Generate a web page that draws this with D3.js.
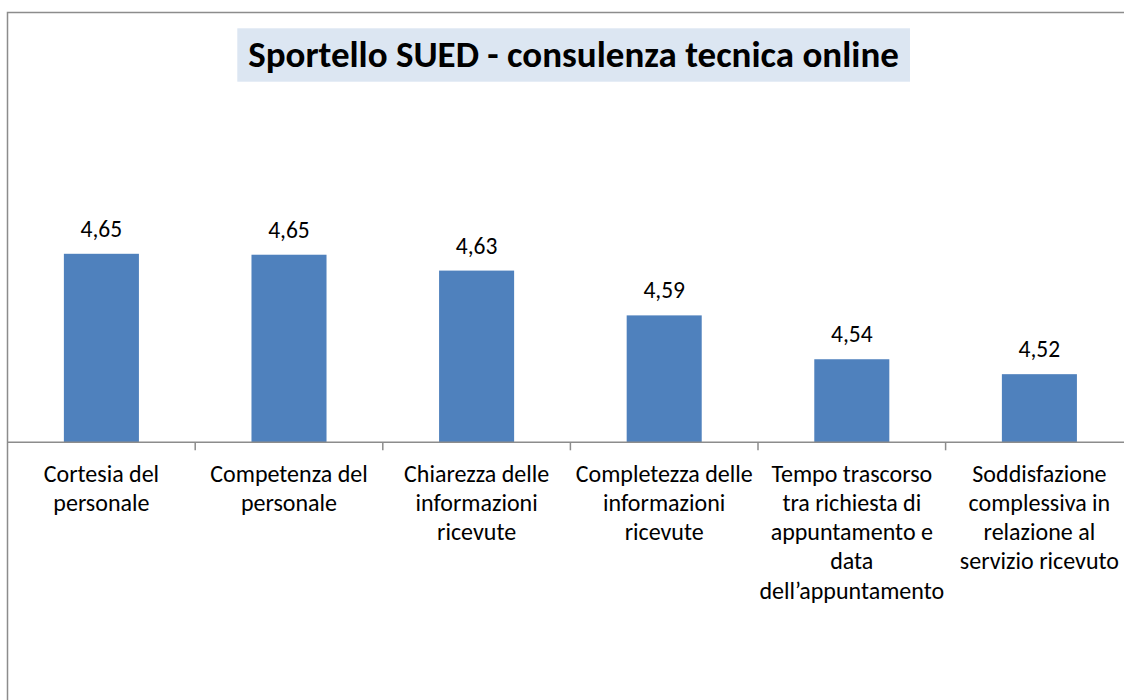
<!DOCTYPE html>
<html>
<head>
<meta charset="utf-8">
<script src="https://cdn.jsdelivr.net/npm/d3@7"></script>
<style>
    body { margin: 0; background: #fff; }
    #chart { width: 1124px; height: 700px; overflow: hidden; }
    text { font-family: Carlito, Calibri, Lato, sans-serif; fill: #000; }
</style>
</head>
<body>
<div id="chart"></div>
<script>

// data
const categories = [
    "Cortesia del personale",
    "Competenza del personale",
    "Chiarezza delle informazioni ricevute",
    "Completezza delle informazioni ricevute",
    "Tempo trascorso tra richiesta di appuntamento e data dell\u2019appuntamento",
    "Soddisfazione complessiva in relazione al servizio ricevuto"
];
const values = [4.652, 4.651, 4.634, 4.586, 4.539, 4.523];

// tick labels, wrapped as in the original
const labelLines = [
    ["Cortesia del", "personale"],
    ["Competenza del", "personale"],
    ["Chiarezza delle", "informazioni", "ricevute"],
    ["Completezza delle", "informazioni", "ricevute"],
    ["Tempo trascorso", "tra richiesta di", "appuntamento e", "data", "dell\u2019appuntamento"],
    ["Soddisfazione", "complessiva in", "relazione al", "servizio ricevuto"]
];
const yDomain = [4.45, 4.70];
const title = "Sportello SUED - consulenza tecnica online";

let width = 1124, height = 700;

let svg = d3.select("#chart").append("svg")
    .attr("width", width)
    .attr("height", height);

// chart border (only top and left are inside the picture)
svg.append("rect")
    .attr("x", 7.5)
    .attr("y", 12.5)
    .attr("width", 1300)
    .attr("height", 900)
    .attr("fill", "#fff")
    .attr("stroke", "#8c8c8c")
    .attr("stroke-width", 1.5);

// scales
let x = d3.scaleBand()
    .domain(categories)
    .range([7.6, 7.6 + 6 * 187.6])
    .padding(0);

let y = d3.scaleLinear()
    .domain(yDomain)
    .range([442.3, 209]);

let barW = x.bandwidth() * 0.4;

// bars
svg.append("g")
    .selectAll("rect")
    .data(values)
    .enter()
    .append("rect")
    .attr("x", (d, i) => x(categories[i]) + (x.bandwidth() - barW) / 2)
    .attr("y", d => y(d))
    .attr("width", barW)
    .attr("height", d => y(yDomain[0]) - y(d))
    .attr("fill", "#4f81bd");

// value labels
svg.append("g")
    .selectAll("text")
    .data(values)
    .enter()
    .append("text")
    .attr("x", (d, i) => x(categories[i]) + x.bandwidth() / 2)
    .attr("y", d => y(d) - 17)
    .attr("text-anchor", "middle")
    .style("font-size", "23.5px")
    .text(d => d3.format(".2f")(d).replace(".", ","));

// x axis: line + ticks between categories
let axis = svg.append("g").attr("class", "x-axis");
axis.append("line")
    .attr("x1", x.range()[0])
    .attr("x2", x.range()[1])
    .attr("y1", y(yDomain[0]))
    .attr("y2", y(yDomain[0]))
    .attr("stroke", "#8c8c8c")
    .attr("stroke-width", 1.5);

axis.selectAll(".tick")
    .data(categories.slice(1))
    .enter()
    .append("line")
    .attr("class", "tick")
    .attr("x1", d => x(d))
    .attr("x2", d => x(d))
    .attr("y1", y(yDomain[0]))
    .attr("y2", y(yDomain[0]) + 8)
    .attr("stroke", "#8c8c8c")
    .attr("stroke-width", 1.5);

// category labels
let lab = axis.selectAll(".label")
    .data(categories)
    .enter()
    .append("text")
    .attr("class", "label")
    .attr("text-anchor", "middle")
    .style("font-size", "24px")
    .attr("transform", d => "translate(" + (x(d) + x.bandwidth() / 2) + ",481.5)");

lab.selectAll("tspan")
    .data((d, i) => labelLines[i])
    .enter()
    .append("tspan")
    .attr("x", 0)
    .attr("y", (d, i) => i * 29.3)
    .text(d => d);

// title with shaded box
let tg = svg.append("g");
tg.append("rect")
    .attr("x", 237.3)
    .attr("y", 28.3)
    .attr("width", 910 - 237.3)
    .attr("height", 81.7 - 28.3)
    .attr("fill", "#dce6f2");

tg.append("text")
    .attr("x", 573.5)
    .attr("y", 67)
    .attr("text-anchor", "middle")
    .style("font-size", "37px")
    .style("font-weight", "bold")
    .text(title);

</script>
</body>
</html>
